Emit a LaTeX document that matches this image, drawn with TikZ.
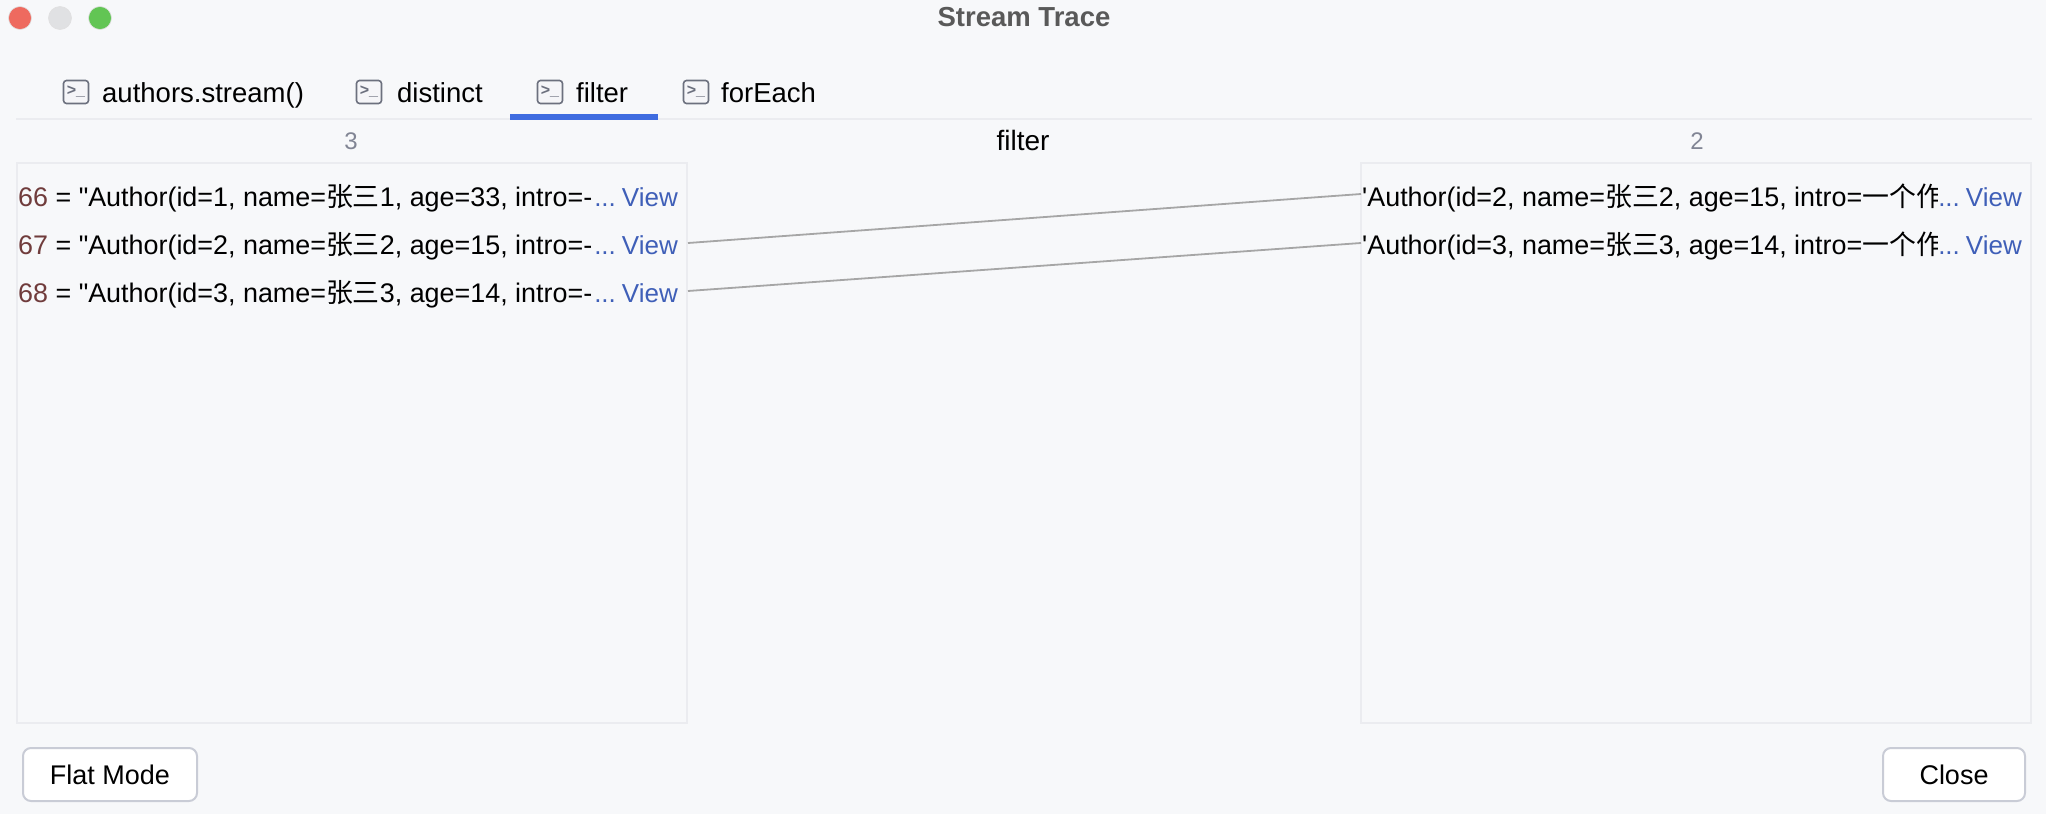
\documentclass[tikz,border=0pt]{standalone}
\usepackage{fontspec}
\setmainfont{Liberation Sans}[Ligatures=TeXOff]
\newfontfamily\cjk{Noto Sans CJK SC}
\newcommand{\zh}[1]{{\cjk #1}}
\newcommand{\px}[1]{\fontsize{#1}{#1}\selectfont}
\newcommand{\viewtext}{...\hspace{6pt}View}
\definecolor{winbg}{HTML}{F7F8FA}
\definecolor{panelline}{HTML}{EBECF0}
\definecolor{headgray}{HTML}{818594}
\definecolor{idxbrown}{HTML}{703C3C}
\definecolor{viewblue}{HTML}{3F5FB8}
\definecolor{tabblue}{HTML}{3F6CE0}
\definecolor{btnline}{HTML}{C9CCD6}
\definecolor{iconline}{HTML}{6C707E}
\definecolor{redlight}{HTML}{EE6A5F}
\definecolor{graylight}{HTML}{E0E1E3}
\definecolor{greenlight}{HTML}{62C554}
\tikzset{
  light/.style={circle,inner sep=0pt,minimum size=23pt,draw=black!12,line width=0.6pt},
  tabicon/.style={draw=iconline,fill=panelline!50,rounded corners=3pt,line width=1.6pt,minimum width=25pt,minimum height=23pt,inner sep=0pt,text=iconline,font=\px{16}\bfseries},
  tabtext/.style={anchor=base west,inner sep=0pt,font=\px{27.5}},
  head/.style={anchor=base,inner sep=0pt,font=\px{24},text=headgray},
  rowtext/.style={anchor=base west,inner sep=0pt,font=\px{26.9}},
  viewlink/.style={anchor=base east,inner sep=0pt,fill=winbg,text=viewblue,font=\px{26},text height=22pt,text depth=8pt},
  panel/.style={draw=panelline,line width=2pt,fill=winbg,anchor=north west,inner sep=0pt},
  slot/.style={inner sep=0pt,minimum height=40pt},
  btn/.style={draw=btnline,fill=white,line width=2pt,rounded corners=8pt,anchor=north west,inner sep=0pt,minimum height=53pt,font=\px{27}},
  trace/.style={draw=black!35,line width=1.8pt}
}
\begin{document}
\begin{tikzpicture}[x=1pt,y=-1pt]
      \useasboundingbox[fill=winbg] (0,0) rectangle (2046,814);
      \node[light,fill=redlight] (closedot) at (20,18) {};
      \node[light,fill=graylight] (mindot) at (60,18) {};
      \node[light,fill=greenlight] (zoomdot) at (100,18) {};
      \node[font=\px{27.5}\bfseries,text=black!65,inner sep=0pt] (title) at (1024,17) {Stream Trace};
      \draw[panelline,line width=2pt] (16,119) -- (2032,119);
      \fill[tabblue] (510,114) rectangle (658,120);
      \node[tabicon] (iconauthors) at (76,92) {>\_};
      \node[tabtext] (tabauthors) at (102,102) {authors.stream()};
      \node[tabicon] (icondistinct) at (369,92) {>\_};
      \node[tabtext] (tabdistinct) at (397,102) {distinct};
      \node[tabicon] (iconfilter) at (550,92) {>\_};
      \node[tabtext] (tabfilter) at (576,102) {filter};
      \node[tabicon] (iconforeach) at (696,92) {>\_};
      \node[tabtext] (tabforeach) at (721,102) {forEach};
      \node[head] (headleft) at (351,149) {3};
      \node[head,text=black,font=\px{28}] (headmid) at (1023,150) {filter};
      \node[head] (headright) at (1697,149) {2};
      \node[panel,minimum width=670pt,minimum height=560pt] (leftpanel) at (16,162) {};
      \node[panel,minimum width=670pt,minimum height=560pt] (rightpanel) at (1360,162) {};
      \node[rowtext] (rowa) at (18,206) {\textcolor{idxbrown}{66} = "Author(id=1, name=\zh{张三}1, age=33, intro=-};
      \node[rowtext] (rowb) at (18,254) {\textcolor{idxbrown}{67} = "Author(id=2, name=\zh{张三}2, age=15, intro=-};
      \node[rowtext] (rowc) at (18,302) {\textcolor{idxbrown}{68} = "Author(id=3, name=\zh{张三}3, age=14, intro=-};
      \node[viewlink] (viewa) at (678,206) {\viewtext};
      \node[viewlink] (viewb) at (678,254) {\viewtext};
      \node[viewlink] (viewc) at (678,302) {\viewtext};
      \node[rowtext] (rowd) at (1362,206) {'Author(id=2, name=\zh{张三}2, age=15, intro=\zh{一个作}};
      \node[rowtext] (rowe) at (1362,254) {'Author(id=3, name=\zh{张三}3, age=14, intro=\zh{一个作}};
      \node[viewlink] (viewd) at (2022,206) {\viewtext};
      \node[viewlink] (viewe) at (2022,254) {\viewtext};
      \node[slot,minimum width=1pt,anchor=east] (slotb) at (688,243) {};
      \node[slot,minimum width=1pt,anchor=east] (slotc) at (688,291) {};
      \node[slot,minimum width=1pt,anchor=west] (slotd) at (1361,194) {};
      \node[slot,minimum width=1pt,anchor=west] (slote) at (1361,243) {};
      \draw[trace] (slotb.east) -- (slotd.west);
      \draw[trace] (slotc.east) -- (slote.west);
      \node[btn,minimum width=174pt] (flatmode) at (22,747) {Flat Mode};
      \node[btn,minimum width=142pt] (closebtn) at (1882,747) {Close};
    \end{tikzpicture}
\end{document}
